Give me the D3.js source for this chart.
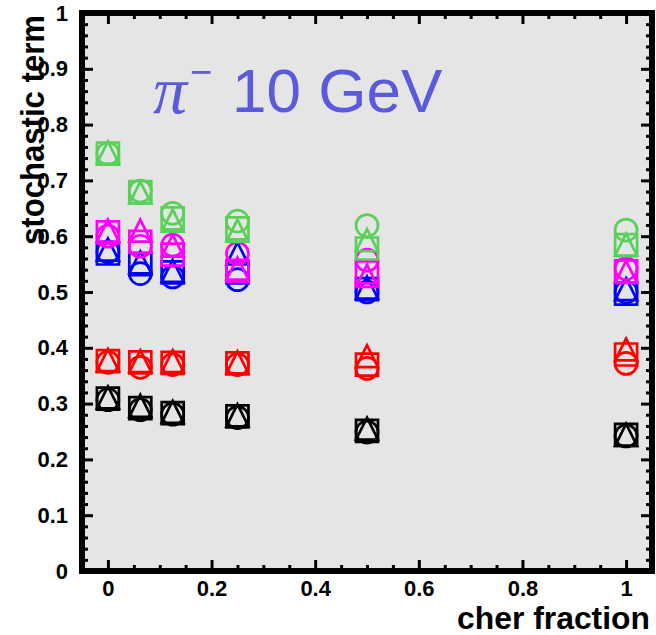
<!DOCTYPE html>
<html lang="en">
<head>
    <meta charset="UTF-8" />
    <script src="https://d3js.org/d3.v7.min.js"></script>
    <title>stochastic term vs cher fraction</title>
    <style>
        body { margin: 0; background: #fff; }
    </style>
</head>
<body>
<div id="chart"></div>
<script>

// x positions (cher fraction)
var cherFraction = [0, 0.0625, 0.125, 0.25, 0.5, 1]

// stochastic term, one array per colour / marker
var greenCircle   = [0.748, 0.681, 0.641, 0.627, 0.619, 0.611]
var greenSquare   = [0.748, 0.679, 0.632, 0.614, 0.578, 0.584]
var greenTriangle = [0.750, 0.678, 0.628, 0.610, 0.593, 0.585]

var magentaCircle   = [0.600, 0.582, 0.584, 0.569, 0.557, 0.542]
var magentaSquare   = [0.607, 0.590, 0.567, 0.538, 0.535, 0.537]
var magentaTriangle = [0.610, 0.610, 0.583, 0.542, 0.529, 0.536]

var blueCircle   = [0.572, 0.533, 0.527, 0.522, 0.500, 0.500]
var blueSquare   = [0.569, 0.550, 0.535, 0.535, 0.505, 0.497]
var blueTriangle = [0.576, 0.553, 0.538, 0.569, 0.508, 0.505]

var redCircle   = [0.374, 0.365, 0.370, 0.370, 0.363, 0.372]
var redSquare   = [0.376, 0.374, 0.373, 0.372, 0.370, 0.388]
var redTriangle = [0.378, 0.376, 0.376, 0.374, 0.385, 0.397]

var blackCircle   = [0.307, 0.289, 0.281, 0.275, 0.249, 0.242]
var blackSquare   = [0.309, 0.292, 0.283, 0.277, 0.251, 0.244]
var blackTriangle = [0.311, 0.296, 0.285, 0.279, 0.255, 0.244]

var xTickValues = [0, 0.2, 0.4, 0.6, 0.8, 1]
var yTickValues = [0, 0.1, 0.2, 0.3, 0.4, 0.5, 0.6, 0.7, 0.8, 0.9, 1]

var series = [
  { color: "#000000", shape: "circle",   values: blackCircle },
  { color: "#000000", shape: "square",   values: blackSquare },
  { color: "#000000", shape: "triangle", values: blackTriangle },
  { color: "#ff0000", shape: "circle",   values: redCircle },
  { color: "#ff0000", shape: "square",   values: redSquare },
  { color: "#ff0000", shape: "triangle", values: redTriangle },
  { color: "#0000ff", shape: "circle",   values: blueCircle },
  { color: "#0000ff", shape: "square",   values: blueSquare },
  { color: "#0000ff", shape: "triangle", values: blueTriangle },
  { color: "#ff00ff", shape: "circle",   values: magentaCircle },
  { color: "#ff00ff", shape: "square",   values: magentaSquare },
  { color: "#ff00ff", shape: "triangle", values: magentaTriangle },
  { color: "#59d159", shape: "circle",   values: greenCircle },
  { color: "#59d159", shape: "square",   values: greenSquare },
  { color: "#59d159", shape: "triangle", values: greenTriangle }
]

var width = 656
var height = 635
// frame edges (pixels)
var frameL = 82, frameR = 652, frameT = 13, frameB = 571

var svg = d3.select("#chart")
  .append("svg")
  .attr("width", width)
  .attr("height", height)

var x = d3.scaleLinear().domain([-0.05, 1.05]).range([frameL, frameR])
var y = d3.scaleLinear().domain([0, 1]).range([frameB, frameT])

// frame background
svg.append("rect")
  .attr("x", frameL).attr("y", frameT)
  .attr("width", frameR - frameL).attr("height", frameB - frameT)
  .attr("fill", "#e5e5e5")

// minor tick positions
var xMinor = d3.range(-0.05, 1.0501, 0.05).filter(function(v){ return Math.abs(v*5 - Math.round(v*5)) > 1e-6 })
var yMinor = d3.range(0, 1.0001, 0.02).filter(function(v){ return Math.abs(v*10 - Math.round(v*10)) > 1e-6 })

var fmt = function(d){ return d === 0 || d === 1 ? d3.format("d")(d) : d3.format(".1f")(d) }

function styleAxis(g) {
  g.select(".domain").remove()
  g.selectAll("line").attr("stroke", "#000").attr("stroke-width", 3)
  g.selectAll("text")
    .attr("fill", "#000")
    .style("font-family", "Liberation Sans, Arial, sans-serif")
    .style("font-weight", "bold")
    .style("font-size", "22px")
}

// bottom axis with labels, ticks pointing inward
svg.append("g").attr("transform", "translate(0," + frameB + ")")
  .call(d3.axisBottom(x).tickValues(xTickValues).tickSize(-11).tickPadding(9).tickFormat(fmt))
  .call(styleAxis)
svg.append("g").attr("transform", "translate(0," + frameB + ")")
  .call(d3.axisBottom(x).tickValues(xMinor).tickSize(-6).tickFormat(""))
  .call(styleAxis)

// top axis, ticks only
svg.append("g").attr("transform", "translate(0," + frameT + ")")
  .call(d3.axisTop(x).tickValues(xTickValues).tickSize(-11).tickFormat(""))
  .call(styleAxis)
svg.append("g").attr("transform", "translate(0," + frameT + ")")
  .call(d3.axisTop(x).tickValues(xMinor).tickSize(-6).tickFormat(""))
  .call(styleAxis)

// left axis with labels
svg.append("g").attr("transform", "translate(" + frameL + ",0)")
  .call(d3.axisLeft(y).tickValues(yTickValues).tickSize(-11).tickPadding(14).tickFormat(fmt))
  .call(styleAxis)
svg.append("g").attr("transform", "translate(" + frameL + ",0)")
  .call(d3.axisLeft(y).tickValues(yMinor).tickSize(-6).tickFormat(""))
  .call(styleAxis)

// right axis, ticks only
svg.append("g").attr("transform", "translate(" + frameR + ",0)")
  .call(d3.axisRight(y).tickValues(yTickValues).tickSize(-11).tickFormat(""))
  .call(styleAxis)
svg.append("g").attr("transform", "translate(" + frameR + ",0)")
  .call(d3.axisRight(y).tickValues(yMinor).tickSize(-6).tickFormat(""))
  .call(styleAxis)

// frame border
svg.append("rect")
  .attr("x", frameL).attr("y", frameT)
  .attr("width", frameR - frameL).attr("height", frameB - frameT)
  .attr("fill", "none")
  .attr("stroke", "#000")
  .attr("stroke-width", 6)

// markers
var s = 11
function markerPath(shape) {
  if (shape === "circle") return d3.symbol().type(d3.symbolCircle).size(Math.PI * s * s)()
  if (shape === "square") return "M" + (-s) + "," + (-s) + "H" + s + "V" + s + "H" + (-s) + "Z"
  return "M0," + (-s) + "L" + s + "," + s + "H" + (-s) + "Z"
}

series.forEach(function(ser) {
  svg.append("g")
    .selectAll("path")
    .data(ser.values)
    .enter()
    .append("path")
    .attr("transform", function(d, i){ return "translate(" + x(cherFraction[i]) + "," + y(d) + ")" })
    .attr("d", markerPath(ser.shape))
    .attr("fill", "none")
    .attr("stroke", ser.color)
    .attr("stroke-width", 2.7)
})

// axis titles (ROOT style, aligned to the axis end)
svg.append("text")
  .attr("x", 650).attr("y", 629)
  .attr("text-anchor", "end")
  .attr("textLength", 193)
  .attr("lengthAdjust", "spacingAndGlyphs")
  .style("font-family", "Liberation Sans, Arial, sans-serif")
  .style("font-weight", "bold")
  .style("font-size", "31px")
  .text("cher fraction")

svg.append("text")
  .attr("transform", "translate(44,15) rotate(-90)")
  .attr("text-anchor", "end")
  .attr("textLength", 230)
  .attr("lengthAdjust", "spacingAndGlyphs")
  .style("font-family", "Liberation Sans, Arial, sans-serif")
  .style("font-weight", "bold")
  .style("font-size", "33px")
  .text("stochastic term")

// label in the plot
var label = svg.append("g").attr("fill", "#5a5adc")
label.append("text")
  .attr("x", 153).attr("y", 113)
  .style("font-family", "Liberation Serif, Times, serif")
  .style("font-style", "italic")
  .style("font-size", "68px")
  .text("π")
label.append("text")
  .attr("x", 190).attr("y", 85)
  .style("font-family", "Liberation Sans, Arial, sans-serif")
  .style("font-size", "38px")
  .text("−")
label.append("text")
  .attr("x", 232).attr("y", 112)
  .style("font-family", "Liberation Sans, Arial, sans-serif")
  .style("font-size", "62px")
  .text("10 GeV")

</script>
</body>
</html>
